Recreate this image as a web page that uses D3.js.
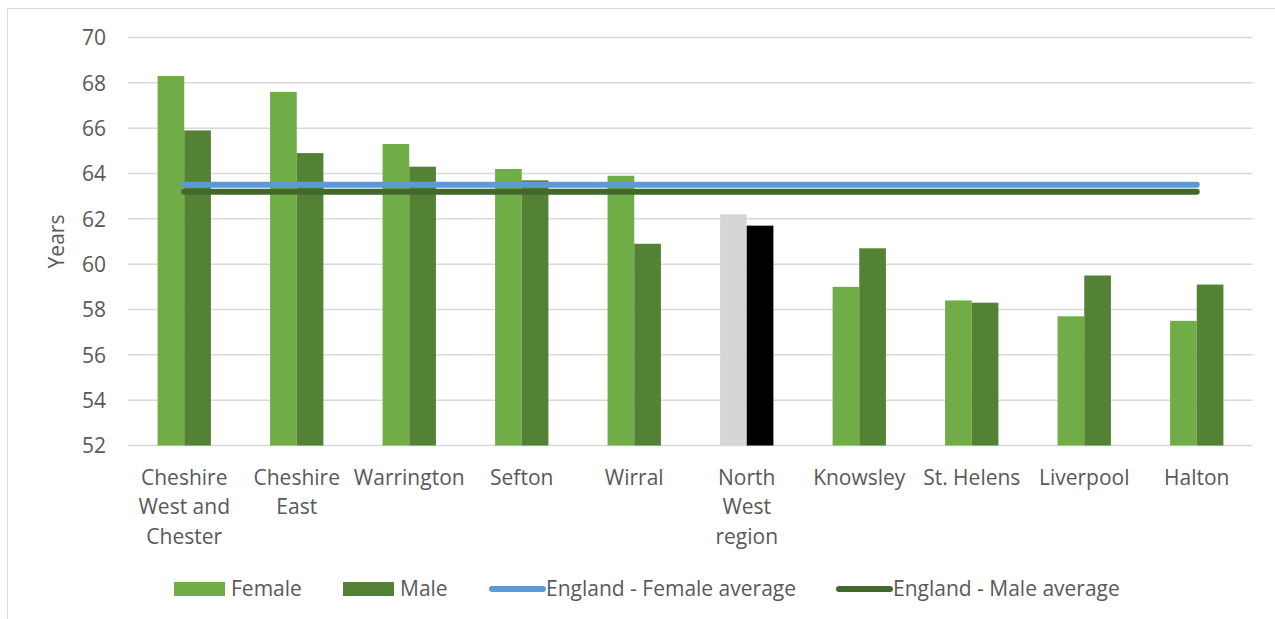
<!DOCTYPE html>
<html>
<head>
<meta charset="utf-8">
<script src="https://cdn.jsdelivr.net/npm/d3@7"></script>
<style>
  body { margin: 0; background: #fff; }
  text { font-family: "Open Sans", sans-serif; fill: #595959; }
</style>
</head>
<body>
<div id="chart"></div>
<script>
var categories = ["Cheshire\nWest and\nChester", "Cheshire\nEast", "Warrington", "Sefton", "Wirral",
  "North\nWest\nregion", "Knowsley", "St. Helens", "Liverpool", "Halton"];
var female = [68.3, 67.6, 65.3, 64.2, 63.9, 62.2, 59.0, 58.4, 57.7, 57.5];
var male = [65.9, 64.9, 64.3, 63.7, 60.9, 61.7, 60.7, 58.3, 59.5, 59.1];
var englandFemaleAvg = 63.5;
var englandMaleAvg = 63.2;
var yTicks = [52, 54, 56, 58, 60, 62, 64, 66, 68, 70];
var highlight = "North\nWest\nregion";

var svgWidth = 1275;
var svgHeight = 619;

var margin = { top: 37.5, right: 22, bottom: 173.5, left: 128 };
var width = svgWidth - margin.left - margin.right;
var height = svgHeight - margin.top - margin.bottom;

var svg = d3.select("#chart")
  .append("svg")
  .attr("width", svgWidth)
  .attr("height", svgHeight);

// outer chart border
svg.append("rect")
  .attr("x", 7.5)
  .attr("y", 8.5)
  .attr("width", svgWidth)
  .attr("height", svgHeight)
  .attr("fill", "none")
  .attr("stroke", "#d9d9d9");

var chartGroup = svg.append("g")
  .attr("transform", `translate(${margin.left}, ${margin.top})`);

var x0 = d3.scaleBand()
  .domain(categories)
  .range([0, width])
  .paddingInner(0.526)
  .paddingOuter(0.263);

var x1 = d3.scaleBand()
  .domain(["female", "male"])
  .range([0, x0.bandwidth()]);

var y = d3.scaleLinear()
  .domain([52, 70])
  .range([height, 0]);

// gridlines
chartGroup.selectAll(".grid")
  .data(yTicks)
  .enter()
  .append("line")
  .attr("x1", 0)
  .attr("x2", width)
  .attr("y1", d => y(d))
  .attr("y2", d => y(d))
  .attr("stroke", "#d9d9d9")
  .attr("stroke-width", 1.5);

// y axis labels
var leftAxis = d3.axisLeft(y).tickValues(yTicks).tickSize(0).tickPadding(22);
var yAxis = chartGroup.append("g").call(leftAxis);
yAxis.select(".domain").remove();
yAxis.selectAll("text")
  .attr("font-size", "21px")
  .attr("font-family", "Open Sans")
  .attr("fill", "#595959")
  .attr("dy", "0.35em");

chartGroup.append("text")
  .attr("transform", "rotate(-90)")
  .attr("x", -y(61))
  .attr("y", -64)
  .attr("text-anchor", "middle")
  .attr("font-size", "21px")
  .text("Years");

// bars
var rows = categories.map((c, i) => ({ cat: c, female: female[i], male: male[i] }));

var groups = chartGroup.selectAll(".cat")
  .data(rows)
  .enter()
  .append("g")
  .attr("transform", d => `translate(${x0(d.cat)}, 0)`);

groups.selectAll("rect")
  .data(d => ["female", "male"].map(k => ({ key: k, value: d[k], cat: d.cat })))
  .enter()
  .append("rect")
  .attr("x", d => x1(d.key))
  .attr("width", x1.bandwidth())
  .attr("y", d => y(d.value))
  .attr("height", d => y(52) - y(d.value))
  .attr("fill", d => {
    if (d.cat === highlight) return d.key === "female" ? "#d6d6d6" : "#000000";
    return d.key === "female" ? "#70ad47" : "#548235";
  });

// England averages
var first = categories[0];
var last = categories[categories.length - 1];
var cx = c => x0(c) + x0.bandwidth() / 2;

var avgLine = d3.line().x(d => cx(d[0])).y(d => y(d[1]));

chartGroup.append("path")
  .attr("d", avgLine([[first, englandMaleAvg], [last, englandMaleAvg]]))
  .attr("stroke", "#43682b")
  .attr("stroke-width", 6)
  .attr("stroke-linecap", "round")
  .attr("fill", "none");

chartGroup.append("path")
  .attr("d", avgLine([[first, englandFemaleAvg], [last, englandFemaleAvg]]))
  .attr("stroke", "#5b9bd5")
  .attr("stroke-width", 6)
  .attr("stroke-linecap", "round")
  .attr("fill", "none");

// category labels
var labels = chartGroup.selectAll(".label")
  .data(categories)
  .enter()
  .append("text")
  .attr("text-anchor", "middle")
  .attr("font-size", "21px")
  .attr("transform", d => `translate(${cx(d)}, ${height + 39})`);

labels.selectAll("tspan")
  .data(d => d.split("\n"))
  .enter()
  .append("tspan")
  .attr("x", 0)
  .attr("y", (d, i) => i * 29.5)
  .text(d => d);

// legend
var legendItems = [
  { label: "Female", type: "rect", color: "#70ad47", x: 174 },
  { label: "Male", type: "rect", color: "#548235", x: 343 },
  { label: "England - Female average", type: "line", color: "#5b9bd5", x: 489 },
  { label: "England - Male average", type: "line", color: "#43682b", x: 836 }
];

var legend = svg.append("g").attr("transform", "translate(0, 589)");

legendItems.forEach(function(item) {
  if (item.type === "rect") {
    legend.append("rect")
      .attr("x", item.x)
      .attr("y", -7)
      .attr("width", 51)
      .attr("height", 14)
      .attr("fill", item.color);
  } else {
    legend.append("line")
      .attr("x1", item.x + 3)
      .attr("x2", item.x + 54)
      .attr("y1", 0)
      .attr("y2", 0)
      .attr("stroke", item.color)
      .attr("stroke-width", 6)
      .attr("stroke-linecap", "round");
  }
  legend.append("text")
    .attr("x", item.x + 57)
    .attr("y", 0)
    .attr("dy", "0.35em")
    .attr("font-size", "21px")
    .text(item.label);
});
</script>
</body>
</html>
